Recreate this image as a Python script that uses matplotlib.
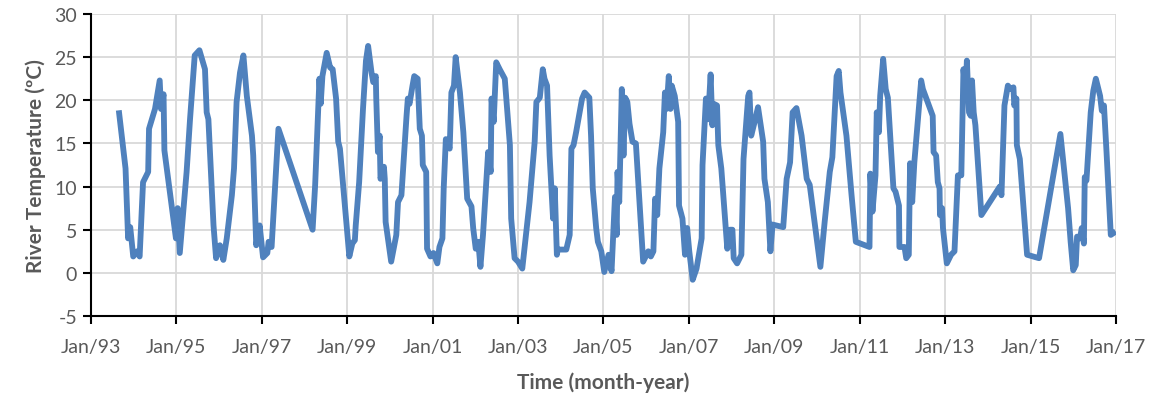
import matplotlib
matplotlib.use("Agg")
import matplotlib.pyplot as plt

# sample time in decimal years, river temperature in degC
years = [
    1993.66, 1993.81, 1993.87, 1993.92, 1993.99, 1994.08, 1994.14, 1994.22, 1994.34, 1994.36,
    1994.50, 1994.61, 1994.64, 1994.70, 1994.72, 1994.99, 1995.03, 1995.08, 1995.24, 1995.32,
    1995.43, 1995.54, 1995.67, 1995.71, 1995.75, 1995.87, 1995.93, 1996.02, 1996.10, 1996.18,
    1996.30, 1996.35, 1996.41, 1996.49, 1996.57, 1996.65, 1996.77, 1996.80, 1996.87, 1996.95,
    1997.03, 1997.13, 1997.16, 1997.23, 1997.39, 1998.19, 1998.25, 1998.35, 1998.38, 1998.42,
    1998.52, 1998.60, 1998.66, 1998.74, 1998.79, 1998.83, 1999.05, 1999.12, 1999.18, 1999.20,
    1999.28, 1999.37, 1999.44, 1999.49, 1999.57, 1999.61, 1999.67, 1999.68, 1999.72, 1999.76,
    1999.78, 1999.86, 1999.88, 1999.90, 2000.03, 2000.15, 2000.19, 2000.27, 2000.39, 2000.42,
    2000.46, 2000.53, 2000.57, 2000.65, 2000.70, 2000.75, 2000.77, 2000.85, 2000.87, 2000.95,
    2001.02, 2001.11, 2001.16, 2001.23, 2001.26, 2001.31, 2001.40, 2001.44, 2001.50, 2001.54,
    2001.64, 2001.72, 2001.81, 2001.91, 2001.95, 2002.01, 2002.07, 2002.12, 2002.18, 2002.30,
    2002.36, 2002.38, 2002.43, 2002.49, 2002.57, 2002.69, 2002.81, 2002.84, 2002.92, 2003.00,
    2003.10, 2003.27, 2003.39, 2003.43, 2003.51, 2003.58, 2003.62, 2003.68, 2003.74, 2003.82,
    2003.86, 2003.91, 2003.93, 2004.13, 2004.21, 2004.25, 2004.30, 2004.36, 2004.50, 2004.56,
    2004.67, 2004.71, 2004.75, 2004.83, 2004.87, 2004.95, 2005.02, 2005.12, 2005.19, 2005.27,
    2005.31, 2005.33, 2005.37, 2005.43, 2005.47, 2005.51, 2005.56, 2005.61, 2005.68, 2005.76,
    2005.93, 2006.05, 2006.11, 2006.17, 2006.21, 2006.26, 2006.31, 2006.40, 2006.44, 2006.48,
    2006.53, 2006.57, 2006.60, 2006.67, 2006.75, 2006.77, 2006.85, 2006.91, 2006.96, 2007.01,
    2007.09, 2007.18, 2007.30, 2007.32, 2007.40, 2007.45, 2007.51, 2007.55, 2007.58, 2007.66,
    2007.69, 2007.76, 2007.90, 2007.96, 2008.02, 2008.05, 2008.13, 2008.23, 2008.28, 2008.39,
    2008.42, 2008.46, 2008.54, 2008.62, 2008.74, 2008.77, 2008.85, 2008.91, 2008.96, 2009.21,
    2009.29, 2009.37, 2009.43, 2009.52, 2009.64, 2009.76, 2009.83, 2010.08, 2010.18, 2010.30,
    2010.36, 2010.46, 2010.51, 2010.55, 2010.69, 2010.81, 2010.91, 2011.23, 2011.25, 2011.30,
    2011.37, 2011.40, 2011.45, 2011.48, 2011.55, 2011.61, 2011.66, 2011.79, 2011.84, 2011.92,
    2011.93, 2012.05, 2012.09, 2012.15, 2012.18, 2012.23, 2012.28, 2012.44, 2012.48, 2012.71,
    2012.73, 2012.79, 2012.83, 2012.87, 2012.88, 2012.93, 2012.95, 2013.04, 2013.14, 2013.22,
    2013.30, 2013.38, 2013.43, 2013.48, 2013.51, 2013.56, 2013.60, 2013.63, 2013.67, 2013.71,
    2013.85, 2014.28, 2014.32, 2014.39, 2014.47, 2014.53, 2014.60, 2014.62, 2014.67, 2014.68,
    2014.75, 2014.92, 2015.20, 2015.70, 2015.88, 2015.94, 2016.00, 2016.06, 2016.09, 2016.16,
    2016.20, 2016.25, 2016.27, 2016.31, 2016.41, 2016.47, 2016.53, 2016.63, 2016.67, 2016.72,
    2016.78, 2016.88, 2016.94,
]
temps = [
    18.5, 12.1, 4.0, 5.3, 1.9, 2.5, 1.9, 10.5, 11.7, 16.7,
    19.0, 22.3, 19.0, 20.7, 14.2, 4.0, 7.5, 2.3, 11.7, 17.8,
    25.2, 25.8, 23.6, 18.6, 17.8, 5.5, 1.7, 3.2, 1.5, 4.0,
    9.0, 12.1, 19.8, 23.2, 25.2, 20.5, 15.9, 13.6, 3.2, 5.5,
    1.8, 2.3, 3.6, 3.0, 16.7, 5.0, 10.2, 22.5, 19.6, 22.8,
    25.5, 23.8, 23.6, 20.2, 15.2, 14.4, 1.9, 3.4, 3.8, 5.5,
    10.5, 19.0, 24.6, 26.3, 23.2, 22.1, 22.8, 20.3, 14.0, 15.9,
    10.9, 12.3, 10.9, 5.9, 1.3, 4.4, 8.2, 9.0, 18.2, 20.2,
    19.6, 21.7, 22.8, 22.5, 16.7, 15.9, 12.5, 11.7, 2.8, 1.9,
    2.3, 1.1, 3.0, 4.0, 9.8, 15.5, 14.4, 20.9, 21.7, 25.0,
    20.9, 16.3, 8.6, 7.7, 5.2, 2.8, 3.6, 0.7, 4.4, 14.0,
    11.7, 20.2, 17.5, 24.4, 23.6, 22.5, 14.8, 6.3, 1.7, 1.3,
    0.5, 8.2, 15.2, 19.8, 20.3, 23.6, 22.5, 21.7, 13.6, 6.3,
    9.8, 2.1, 2.7, 2.7, 4.4, 14.4, 14.8, 16.3, 20.2, 20.9,
    20.3, 15.9, 9.8, 5.2, 3.6, 2.5, 0.1, 2.1, 0.2, 8.8,
    4.4, 11.7, 8.2, 21.3, 13.6, 20.3, 19.8, 17.3, 15.2, 15.0,
    1.3, 2.5, 1.9, 2.5, 8.6, 6.7, 12.1, 16.3, 20.9, 19.0,
    22.8, 19.0, 21.7, 20.5, 17.5, 7.8, 6.3, 2.1, 5.2, 2.5,
    -0.8, 0.5, 4.0, 12.5, 20.2, 17.8, 23.0, 17.1, 19.6, 19.4,
    14.8, 12.1, 2.8, 5.0, 5.0, 1.7, 1.1, 2.1, 13.2, 20.5,
    20.9, 15.9, 17.5, 19.2, 15.2, 10.9, 8.2, 2.5, 5.6, 5.3,
    10.9, 12.8, 18.6, 19.1, 15.9, 10.9, 10.2, 0.7, 5.9, 11.7,
    13.4, 22.8, 23.4, 20.9, 15.9, 9.0, 3.6, 3.0, 11.5, 7.1,
    11.3, 18.6, 16.3, 20.5, 24.8, 21.3, 20.3, 9.8, 9.4, 7.8,
    3.0, 3.0, 1.7, 2.1, 12.7, 8.2, 12.8, 22.3, 21.3, 18.2,
    14.0, 13.6, 10.5, 9.8, 6.7, 7.5, 5.2, 1.1, 2.1, 2.5,
    11.3, 11.3, 23.6, 20.9, 24.6, 18.6, 18.2, 22.3, 18.6, 17.1,
    6.7, 10.0, 9.0, 19.4, 21.7, 21.3, 21.5, 19.4, 20.2, 14.8,
    13.2, 2.1, 1.7, 16.1, 7.5, 3.6, 0.3, 0.9, 4.2, 4.0,
    5.2, 3.4, 11.1, 10.7, 18.6, 21.1, 22.5, 20.5, 18.8, 19.4,
    14.0, 4.4, 4.6,
]

tick_years = [1993, 1995, 1997, 1999, 2001, 2003, 2005, 2007, 2009, 2011, 2013, 2015, 2017]
tick_labels = ["Jan/93", "Jan/95", "Jan/97", "Jan/99", "Jan/01", "Jan/03", "Jan/05",
               "Jan/07", "Jan/09", "Jan/11", "Jan/13", "Jan/15", "Jan/17"]
y_ticks = [-5, 0, 5, 10, 15, 20, 25, 30]

plt.rcParams["font.family"] = ["Lato", "DejaVu Sans"]
plt.rcParams["axes.unicode_minus"] = False
text_col = "#595959"

fig = plt.figure(figsize=(11.6, 4.02), dpi=100)
ax = fig.add_axes([0.0784, 0.2114, 0.8836, 0.7513])

ax.plot(years, temps, color="#4F81BD", lw=4.2, solid_joinstyle="round", zorder=3)

ax.set_xlim(1993, 2017)
ax.set_ylim(-5, 30)
ax.set_xticks(tick_years)
ax.set_xticklabels(tick_labels)
ax.set_yticks(y_ticks)

ax.grid(True, color="#D9D9D9", lw=1.3, zorder=0)
ax.set_axisbelow(True)
for side in ["top", "right"]:
    ax.spines[side].set_visible(False)
for side in ["left", "bottom"]:
    ax.spines[side].set_color("black")
    ax.spines[side].set_linewidth(1.5)

ax.tick_params(axis="both", direction="out", length=6, width=1.5, color="black",
               labelsize=14, labelcolor=text_col)
ax.tick_params(axis="x", pad=10)
ax.tick_params(axis="y", pad=4)

ax.set_xlabel("Time (month-year)", fontsize=15, fontweight="bold", color=text_col, labelpad=12)
ax.set_ylabel("River Temperature (ºC)", fontsize=15, fontweight="bold", color=text_col, labelpad=6)

fig.savefig("out.png", dpi=100)
